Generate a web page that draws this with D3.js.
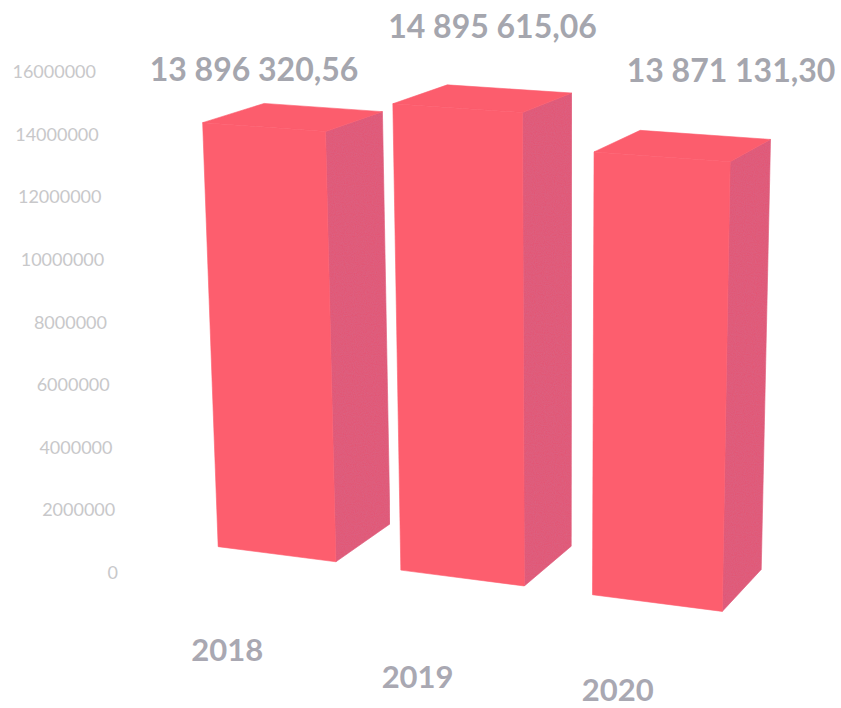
<!DOCTYPE html>
<html><head><meta charset="utf-8">
<script src="https://cdn.jsdelivr.net/npm/d3@7"></script>
<style>body{margin:0;background:#fff;} svg{display:block;}</style>
</head><body><svg id="c" width="841" height="708"></svg>
<script>
const categories = ["2018","2019","2020"];
const values = [13896320.56, 14895615.06, 13871131.30];
const valueLabels = ["13 896 320,56","14 895 615,06","13 871 131,30"];
const yTicks = [0,2000000,4000000,6000000,8000000,10000000,12000000,14000000,16000000];

const svg = d3.select("#c");
// world (3D) scales
const xW = d3.scaleBand().domain(categories).range([0,3]).paddingInner(0.35).paddingOuter(0.1);
const yW = d3.scaleLinear().domain([0,16e6]).range([0,1.6]);
const zW = d3.scaleLinear().domain([0,1]).range([0,1]);

// perspective camera (3x4 projection matrix, last element = 1)
const camera = [
  1.64158, -0.174666, 0.705295, 2.00372,
  0.0950438, -3.08235, -0.137051, 5.44370,
  -0.0223335, -0.0311974, 0.0447953
];
function proj([X,Y,Z]){
  const P = camera;
  const w = P[8]*X + P[9]*Y + P[10]*Z + 1;
  return [100*(P[0]*X+P[1]*Y+P[2]*Z+P[3])/w, 100*(P[4]*X+P[5]*Y+P[6]*Z+P[7])/w];
}

const defs = svg.append("defs");
const f = defs.append("filter").attr("id","grain").attr("x",0).attr("y",0).attr("width",1).attr("height",1);
f.append("feTurbulence").attr("type","fractalNoise").attr("baseFrequency",0.9).attr("numOctaves",2).attr("seed",3).attr("result","n");
f.append("feColorMatrix").attr("in","n").attr("type","matrix")
 .attr("values","0 0 0 0 0.55  0 0 0 0 0.2  0 0 0 0 0.35  0 0 0 0.35 -0.05").attr("result","nc");
f.append("feComposite").attr("in","nc").attr("in2","SourceGraphic").attr("operator","in").attr("result","nm");
f.append("feMerge").call(m=>{m.append("feMergeNode").attr("in","SourceGraphic");m.append("feMergeNode").attr("in","nm");});

const colors = {front:"#fd5e6e", top:"#fc5d6d", side:"#e35775"};
const gBars = svg.append("g");
categories.forEach((cat,i)=>{
  const a = xW(cat), b = a + xW.bandwidth(), h = yW(values[i]), d = zW(1);
  const F0=[a,0,0],F1=[b,0,0],F2=[b,h,0],F3=[a,h,0],B1=[b,0,d],B2=[b,h,d],B3=[a,h,d];
  const faces = [["side",[F1,B1,B2,F2]],["top",[F3,F2,B2,B3]],["front",[F0,F1,F2,F3]]];
  faces.forEach(([k,pts])=>{
    const p = gBars.append("path")
      .attr("d","M"+pts.map(q=>proj(q).join(",")).join("L")+"Z")
      .attr("fill",colors[k]).attr("stroke",colors[k]).attr("stroke-width",0.6);
    if(k==="side") p.attr("filter","url(#grain)");
  });
});

// y axis labels
const yLab = d3.scaleLinear().domain([0,16e6]).range([573,72]);
const xLab = d3.scaleLinear().domain([0,16e6]).range([118,96]);
svg.append("g").selectAll("text").data(yTicks).join("text")
  .attr("x",d=>xLab(d)).attr("y",d=>yLab(d)+6).attr("text-anchor","end")
  .attr("font-family","Lato").attr("font-size",18).attr("fill","#c8c8ca").text(d=>d);

// value labels
const xVal = d3.scalePoint().domain(categories).range([254,731]);
const yVal = d3.scaleLinear().domain([0,16e6]).range([678.5,-9.5]);
svg.append("g").selectAll("text").data(categories).join("text")
  .attr("x",d=>xVal(d)).attr("y",(d,i)=>yVal(values[i])).attr("text-anchor","middle")
  .attr("font-family","Lato").attr("font-weight","bold").attr("font-size",32).attr("fill","#a5a6ae")
  .text((d,i)=>valueLabels[i]);

// category labels (anchored in front of each bar's base)
const catAnchor = d => proj([xW(d)+xW.bandwidth()/2, yW(-2.4e6), zW(-0.85)]);
svg.append("g").selectAll("text").data(categories).join("text")
  .attr("x",d=>catAnchor(d)[0]).attr("y",d=>Math.min(catAnchor(d)[1],701))
  .attr("text-anchor","middle")
  .attr("font-family","Lato").attr("font-weight","bold").attr("font-size",31).attr("fill","#a9a8b2")
  .text(d=>d);
</script></body></html>
